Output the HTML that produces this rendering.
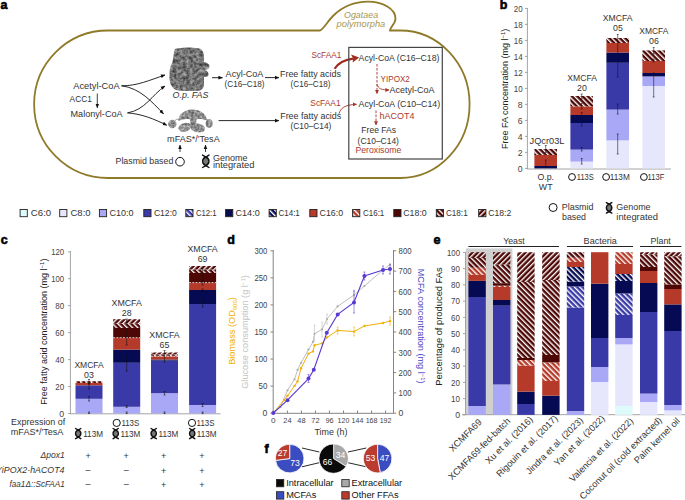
<!DOCTYPE html><html><head><meta charset="utf-8"><style>html,body{margin:0;padding:0;background:#fff;width:685px;height:500px;overflow:hidden}svg{display:block}text{font-family:"Liberation Sans",sans-serif}</style></head><body>
<svg width="685" height="500" viewBox="0 0 685 500">
<defs>
<pattern id="h121" patternUnits="userSpaceOnUse" width="3.75" height="3.75" patternTransform="rotate(-45)"><rect width="3.75" height="3.75" fill="#3a39a8"/><rect x="0" y="0" width="1.35" height="3.75" fill="#fff"/></pattern>
<pattern id="h141" patternUnits="userSpaceOnUse" width="3.75" height="3.75" patternTransform="rotate(-45)"><rect width="3.75" height="3.75" fill="#050a52"/><rect x="0" y="0" width="1.35" height="3.75" fill="#fff"/></pattern>
<pattern id="h161" patternUnits="userSpaceOnUse" width="3.75" height="3.75" patternTransform="rotate(-45)"><rect width="3.75" height="3.75" fill="#b63a2a"/><rect x="0" y="0" width="1.35" height="3.75" fill="#fff"/></pattern>
<pattern id="h181" patternUnits="userSpaceOnUse" width="3.75" height="3.75" patternTransform="rotate(-45)"><rect width="3.75" height="3.75" fill="#4d0806"/><rect x="0" y="0" width="1.35" height="3.75" fill="#fff"/></pattern>
<pattern id="h182" patternUnits="userSpaceOnUse" width="3.75" height="3.75" patternTransform="rotate(45)"><rect width="3.75" height="3.75" fill="#4d0806"/><rect x="0" y="0" width="1.35" height="3.75" fill="#fff"/></pattern>
<marker id="arr" viewBox="0 0 10 10" refX="9" refY="5" markerWidth="4.6" markerHeight="4.6" orient="auto-start-reverse" markerUnits="userSpaceOnUse"><path d="M0,1 L10,5 L0,9 z" fill="#111"/></marker>
<marker id="arrR" viewBox="0 0 10 10" refX="9" refY="5" markerWidth="4" markerHeight="4" orient="auto" markerUnits="userSpaceOnUse"><path d="M0,0 L10,5 L0,10 z" fill="#a83228"/></marker>
<marker id="arrRb" viewBox="0 0 10 10" refX="8" refY="5" markerWidth="8" markerHeight="8" orient="auto" markerUnits="userSpaceOnUse"><path d="M0,0 L10,5 L0,10 z" fill="#a02a20"/></marker>
<filter id="tex" x="-10%" y="-10%" width="120%" height="120%" color-interpolation-filters="sRGB"><feTurbulence type="fractalNoise" baseFrequency="0.3" numOctaves="3" seed="11" result="n"/><feColorMatrix in="n" type="matrix" values="0.7 0 0 0 0.1  0.7 0 0 0 0.1  0.7 0 0 0 0.1  0 0 0 0 1" result="g"/><feGaussianBlur in="g" stdDeviation="0.5" result="gb"/><feComposite in="gb" in2="SourceAlpha" operator="in"/></filter>
<filter id="tex2" x="-10%" y="-10%" width="120%" height="120%" color-interpolation-filters="sRGB"><feTurbulence type="fractalNoise" baseFrequency="0.35" numOctaves="3" seed="5" result="n"/><feColorMatrix in="n" type="matrix" values="0.7 0 0 0 0.2  0.7 0 0 0 0.2  0.7 0 0 0 0.2  0 0 0 0 1" result="g"/><feGaussianBlur in="g" stdDeviation="0.45" result="gb"/><feComposite in="gb" in2="SourceAlpha" operator="in"/></filter>
</defs>
<text x="0.6" y="9.1" font-size="12.5" fill="#000" stroke="#000" stroke-width="0.6" font-weight="bold">a</text>
<text x="499.8" y="9.1" font-size="12.5" fill="#000" stroke="#000" stroke-width="0.6" font-weight="bold">b</text>
<text x="0.8" y="243.6" font-size="12.5" fill="#000" stroke="#000" stroke-width="0.6" font-weight="bold">c</text>
<text x="227.3" y="243.6" font-size="12.5" fill="#000" stroke="#000" stroke-width="0.6" font-weight="bold">d</text>
<text x="433.4" y="243.6" font-size="12.5" fill="#000" stroke="#000" stroke-width="0.6" font-weight="bold">e</text>
<text x="264.6" y="452.5" font-size="12.5" fill="#000" stroke="#000" stroke-width="0.6" font-weight="bold">f</text>
<path d="M108,30.5 L320,30.5 C324,28.5 327,22 333,16 C343,6 355,1.7 368,1.7 C383,1.7 395.5,9 395.5,18.5 C395.5,24 390,27 390,30.5 L400,30.5 A69.6,73.75 0 0 1 400,178 L108,178 A73.9,73.75 0 0 1 108,30.5 Z" fill="none" stroke="#8f7a2a" stroke-width="1.8"/>
<text x="344.00" y="17.7" font-size="8.8" fill="#a89650" stroke="#a89650" stroke-width="0" textLength="34.10" lengthAdjust="spacingAndGlyphs" font-style="italic">Ogataea</text>
<text x="336.60" y="27" font-size="8.8" fill="#a89650" stroke="#a89650" stroke-width="0" textLength="48.70" lengthAdjust="spacingAndGlyphs" font-style="italic">polymorpha</text>
<text x="73.30" y="88.9" font-size="8.8" fill="#333" stroke="#333" stroke-width="0.0" textLength="46.30" lengthAdjust="spacingAndGlyphs" >Acetyl-CoA</text>
<text x="69.60" y="102.4" font-size="8.8" fill="#333" stroke="#333" stroke-width="0.0" textLength="22.30" lengthAdjust="spacingAndGlyphs" >ACC1</text>
<line x1="97.3" y1="93.5" x2="97.3" y2="107.8" stroke="#111" stroke-width="0.8" marker-end="url(#arr)"/>
<text x="70.50" y="117" font-size="8.8" fill="#333" stroke="#333" stroke-width="0.0" textLength="52.10" lengthAdjust="spacingAndGlyphs" >Malonyl-CoA</text>
<path d="M121.5,85.8 C137,86 150,80 165,75" fill="none" stroke="#111" stroke-width="0.9" marker-end="url(#arr)"/>
<path d="M121.5,85.8 C140,88 152,102 163.5,113.8" fill="none" stroke="#111" stroke-width="0.9" marker-end="url(#arr)"/>
<path d="M127.5,112.9 C145,110 152,95 165,86" fill="none" stroke="#111" stroke-width="0.9" marker-end="url(#arr)"/>
<path d="M127.5,112.9 C142,114 154,119 166.8,125.2" fill="none" stroke="#111" stroke-width="0.9" marker-end="url(#arr)"/>
<g filter="url(#tex)">
<path d="M175,49 C182,47 195,47 201,49 C204,52 204.5,56 204,62 C207,62.5 209.5,64 209.5,66.5 C209.5,69 207,69.5 205,70 C207,71 209,72.5 208.5,75 C208,77 205.5,77 204,77 L204,86 C203,89 201,90.6 198,90.8 C190,91.2 180,91.2 176,90 C172,88 170,84 169.6,80 C169.4,74 169.5,68 171,65 C173,62 173.5,56 174,52 Z" fill="#666"/>
</g>
<text x="172.60" y="98.4" font-size="8.8" fill="#333" stroke="#333" stroke-width="0.0" textLength="35.80" lengthAdjust="spacingAndGlyphs" font-style="italic">O.p. FAS</text>
<line x1="212" y1="77.7" x2="222.5" y2="77.7" stroke="#111" stroke-width="0.9" marker-end="url(#arr)"/>
<g filter="url(#tex2)">
<path d="M178.5,121 C178,115 184,110 192,109.6 C200,109.6 206,113 207,120.5 C204,119.5 200,118.5 196.5,119.5 L195.5,127 L191,127 L190,119.5 C186,118.5 182,119.5 178.5,121 Z" fill="#777"/>
<ellipse cx="172.3" cy="124" rx="4.2" ry="4.3" fill="#777"/>
<ellipse cx="184.8" cy="127.3" rx="6.6" ry="4.3" transform="rotate(-16 184.8 127.3)" fill="#777"/>
<ellipse cx="197.6" cy="127.8" rx="7.6" ry="4.5" transform="rotate(12 197.6 127.8)" fill="#777"/>
<ellipse cx="209.2" cy="123.5" rx="3.5" ry="4.2" fill="#777"/>
</g>
<path d="M175,120.5 C177,118.5 179,119 180,120 M205,119.5 C206.5,119 207.5,119.5 208,120" stroke="#777" stroke-width="0.7" fill="none"/>
<text x="167.10" y="141.6" font-size="8.8" fill="#333" stroke="#333" stroke-width="0.0" textLength="52.60" lengthAdjust="spacingAndGlyphs" >mFAS*/′TesA</text>
<line x1="180" y1="152" x2="180" y2="145" stroke="#111" stroke-width="0.8" marker-end="url(#arr)"/>
<line x1="205.5" y1="152" x2="205.5" y2="145" stroke="#111" stroke-width="0.8" marker-end="url(#arr)"/>
<text x="115.50" y="164" font-size="8.8" fill="#333" stroke="#333" stroke-width="0.0" textLength="57.80" lengthAdjust="spacingAndGlyphs" >Plasmid based</text>
<circle cx="180" cy="161.7" r="4.3" fill="none" stroke="#111" stroke-width="1.0"/>
<path d="M205.79999999999998,157.01000000000002 C209.04,158.31000000000003 209.04,164.29 205.79999999999998,165.59 C202.56,164.29 202.56,158.31000000000003 205.79999999999998,157.01000000000002 Z" fill="#777" stroke="none"/>
<path d="M202.6,155.10000000000002 L205.79999999999998,157.01000000000002 C209.976,158.57000000000002 209.976,164.03 205.79999999999998,165.59 L202.6,167.5" fill="none" stroke="#111" stroke-width="1.45" stroke-linecap="round"/>
<path d="M208.99999999999997,155.10000000000002 L205.79999999999998,157.01000000000002 C201.624,158.57000000000002 201.624,164.03 205.79999999999998,165.59 L208.99999999999997,167.5" fill="none" stroke="#111" stroke-width="1.45" stroke-linecap="round"/>
<text x="212.90" y="160.5" font-size="8.8" fill="#333" stroke="#333" stroke-width="0.0" textLength="34.50" lengthAdjust="spacingAndGlyphs" >Genome</text>
<text x="212.90" y="168" font-size="8.8" fill="#333" stroke="#333" stroke-width="0.0" textLength="41.50" lengthAdjust="spacingAndGlyphs" >integrated</text>
<text x="225.60" y="76.8" font-size="8.8" fill="#333" stroke="#333" stroke-width="0.0" textLength="37.80" lengthAdjust="spacingAndGlyphs" >Acyl-CoA</text>
<text x="224.60" y="87" font-size="8.8" fill="#333" stroke="#333" stroke-width="0.0" textLength="39.80" lengthAdjust="spacingAndGlyphs" >(C16–C18)</text>
<line x1="265" y1="77.6" x2="279" y2="77.6" stroke="#111" stroke-width="0.9" marker-end="url(#arr)"/>
<text x="280.00" y="76.8" font-size="8.8" fill="#333" stroke="#333" stroke-width="0.0" textLength="60.90" lengthAdjust="spacingAndGlyphs" >Free fatty acids</text>
<text x="290.60" y="87" font-size="8.8" fill="#333" stroke="#333" stroke-width="0.0" textLength="39.80" lengthAdjust="spacingAndGlyphs" >(C16–C18)</text>
<line x1="218.6" y1="120.6" x2="279" y2="120.6" stroke="#111" stroke-width="0.9" marker-end="url(#arr)"/>
<text x="280.20" y="119.1" font-size="8.8" fill="#333" stroke="#333" stroke-width="0.0" textLength="61.10" lengthAdjust="spacingAndGlyphs" >Free fatty acids</text>
<text x="290.40" y="128.7" font-size="8.8" fill="#333" stroke="#333" stroke-width="0.0" textLength="41.00" lengthAdjust="spacingAndGlyphs" >(C10–C14)</text>
<text x="311.40" y="58" font-size="8.8" fill="#a83a30" stroke="#a83a30" stroke-width="0.0" textLength="29.90" lengthAdjust="spacingAndGlyphs" >ScFAA1</text>
<text x="310.30" y="105.6" font-size="8.8" fill="#a83a30" stroke="#a83a30" stroke-width="0.0" textLength="30.30" lengthAdjust="spacingAndGlyphs" >ScFAA1</text>
<path d="M334.6,68.8 C338,63 343,60 353,58.6" fill="none" stroke="#a02a20" stroke-width="2.2"/>
<path d="M351,54.6 L359.2,57.4 L352.6,62.4 L353.2,58.4 Z" fill="#a02a20"/>
<path d="M338.9,113.7 C341,108 344,105 356.5,104.3" fill="none" stroke="#a83228" stroke-width="0.9" marker-end="url(#arrR)"/>
<rect x="348.8" y="47.4" width="93.5" height="111.6" fill="none" stroke="#444" stroke-width="1.2"/>
<text x="358.60" y="60.8" font-size="8.8" fill="#333" stroke="#333" stroke-width="0.0" textLength="80.80" lengthAdjust="spacingAndGlyphs" >Acyl-CoA (C16–C18)</text>
<line x1="377" y1="64" x2="377" y2="93.5" stroke="#a83228" stroke-width="0.9" stroke-dasharray="2.6,1.4" marker-end="url(#arrR)"/>
<text x="380.60" y="82.3" font-size="8.8" fill="#a83a30" stroke="#a83a30" stroke-width="0.0" textLength="29.30" lengthAdjust="spacingAndGlyphs" >YIPOX2</text>
<path d="M377,84 C378,89 382,90 389,90" fill="none" stroke="#a83228" stroke-width="0.9" marker-end="url(#arrR)"/>
<text x="389.40" y="92.5" font-size="8.8" fill="#333" stroke="#333" stroke-width="0.0" textLength="45.00" lengthAdjust="spacingAndGlyphs" >Acetyl-CoA</text>
<text x="358.60" y="106.6" font-size="8.8" fill="#333" stroke="#333" stroke-width="0.0" textLength="81.50" lengthAdjust="spacingAndGlyphs" >Acyl-CoA (C10–C14)</text>
<line x1="376" y1="110.5" x2="376" y2="124.8" stroke="#a83228" stroke-width="0.9" stroke-dasharray="2.6,1.4" marker-end="url(#arrR)"/>
<text x="379.60" y="119" font-size="8.8" fill="#a83a30" stroke="#a83a30" stroke-width="0.0" textLength="34.80" lengthAdjust="spacingAndGlyphs" >hACOT4</text>
<text x="361.30" y="133.3" font-size="8.8" fill="#333" stroke="#333" stroke-width="0.0" textLength="34.80" lengthAdjust="spacingAndGlyphs" >Free FAs</text>
<text x="357.60" y="143.6" font-size="8.8" fill="#333" stroke="#333" stroke-width="0.0" textLength="41.30" lengthAdjust="spacingAndGlyphs" >(C10–C14)</text>
<text x="355.40" y="153" font-size="8.8" fill="#a83a30" stroke="#a83a30" stroke-width="0.0" textLength="46.00" lengthAdjust="spacingAndGlyphs" >Peroxisome</text>
<line x1="527.4" y1="8" x2="527.4" y2="169" stroke="#9a9a9a" stroke-width="0.9"/>
<line x1="527" y1="169" x2="671" y2="169" stroke="#9a9a9a" stroke-width="0.9"/>
<line x1="525" y1="168.4" x2="527.4" y2="168.4" stroke="#9a9a9a" stroke-width="0.9"/>
<text x="517.75" y="171.6" font-size="9.0" fill="#444" stroke="#444" stroke-width="0.0" textLength="4.85" lengthAdjust="spacingAndGlyphs" >0</text>
<line x1="525" y1="152.4" x2="527.4" y2="152.4" stroke="#9a9a9a" stroke-width="0.9"/>
<text x="517.75" y="155.6" font-size="9.0" fill="#444" stroke="#444" stroke-width="0.0" textLength="4.85" lengthAdjust="spacingAndGlyphs" >2</text>
<line x1="525" y1="136.4" x2="527.4" y2="136.4" stroke="#9a9a9a" stroke-width="0.9"/>
<text x="517.75" y="139.6" font-size="9.0" fill="#444" stroke="#444" stroke-width="0.0" textLength="4.85" lengthAdjust="spacingAndGlyphs" >4</text>
<line x1="525" y1="120.4" x2="527.4" y2="120.4" stroke="#9a9a9a" stroke-width="0.9"/>
<text x="517.75" y="123.60000000000001" font-size="9.0" fill="#444" stroke="#444" stroke-width="0.0" textLength="4.85" lengthAdjust="spacingAndGlyphs" >6</text>
<line x1="525" y1="104.4" x2="527.4" y2="104.4" stroke="#9a9a9a" stroke-width="0.9"/>
<text x="517.75" y="107.60000000000001" font-size="9.0" fill="#444" stroke="#444" stroke-width="0.0" textLength="4.85" lengthAdjust="spacingAndGlyphs" >8</text>
<line x1="525" y1="88.4" x2="527.4" y2="88.4" stroke="#9a9a9a" stroke-width="0.9"/>
<text x="513.70" y="91.60000000000001" font-size="9.0" fill="#444" stroke="#444" stroke-width="0.0" textLength="8.90" lengthAdjust="spacingAndGlyphs" >10</text>
<line x1="525" y1="72.4" x2="527.4" y2="72.4" stroke="#9a9a9a" stroke-width="0.9"/>
<text x="513.70" y="75.60000000000001" font-size="9.0" fill="#444" stroke="#444" stroke-width="0.0" textLength="8.90" lengthAdjust="spacingAndGlyphs" >12</text>
<line x1="525" y1="56.400000000000006" x2="527.4" y2="56.400000000000006" stroke="#9a9a9a" stroke-width="0.9"/>
<text x="513.70" y="59.60000000000001" font-size="9.0" fill="#444" stroke="#444" stroke-width="0.0" textLength="8.90" lengthAdjust="spacingAndGlyphs" >14</text>
<line x1="525" y1="40.400000000000006" x2="527.4" y2="40.400000000000006" stroke="#9a9a9a" stroke-width="0.9"/>
<text x="513.70" y="43.60000000000001" font-size="9.0" fill="#444" stroke="#444" stroke-width="0.0" textLength="8.90" lengthAdjust="spacingAndGlyphs" >16</text>
<line x1="525" y1="24.400000000000006" x2="527.4" y2="24.400000000000006" stroke="#9a9a9a" stroke-width="0.9"/>
<text x="513.70" y="27.600000000000005" font-size="9.0" fill="#444" stroke="#444" stroke-width="0.0" textLength="8.90" lengthAdjust="spacingAndGlyphs" >18</text>
<line x1="525" y1="8.400000000000006" x2="527.4" y2="8.400000000000006" stroke="#9a9a9a" stroke-width="0.9"/>
<text x="513.70" y="11.600000000000005" font-size="9.0" fill="#444" stroke="#444" stroke-width="0.0" textLength="8.90" lengthAdjust="spacingAndGlyphs" >20</text>
<text transform="translate(508.3,88.9) rotate(-90)" font-size="9.0" text-anchor="middle" fill="#222">Free FA concentration (mg l<tspan dy="-3" font-size="6">−1</tspan><tspan dy="3">)</tspan></text>
<rect x="534.4" y="166.00" width="22.6" height="2.40" fill="#050a52"/>
<rect x="534.4" y="155.00" width="22.6" height="11.00" fill="#b63a2a"/>
<rect x="534.4" y="149.00" width="22.6" height="6.00" fill="url(#h181)"/>
<rect x="570.4" y="161.60" width="22.6" height="6.80" fill="#e6e6fc"/>
<rect x="570.4" y="149.60" width="22.6" height="12.00" fill="#a8a8f6"/>
<rect x="570.4" y="123.00" width="22.6" height="26.60" fill="#3a39a8"/>
<rect x="570.4" y="115.00" width="22.6" height="8.00" fill="#050a52"/>
<rect x="570.4" y="106.40" width="22.6" height="8.60" fill="#b63a2a"/>
<rect x="570.4" y="96.00" width="22.6" height="10.40" fill="url(#h181)"/>
<rect x="606.4" y="140.40" width="22.6" height="28.00" fill="#e6e6fc"/>
<rect x="606.4" y="109.60" width="22.6" height="30.80" fill="#a8a8f6"/>
<rect x="606.4" y="62.80" width="22.6" height="46.80" fill="#3a39a8"/>
<rect x="606.4" y="52.50" width="22.6" height="10.30" fill="#050a52"/>
<rect x="606.4" y="43.00" width="22.6" height="9.50" fill="#b63a2a"/>
<rect x="606.4" y="38.00" width="22.6" height="5.00" fill="url(#h181)"/>
<rect x="642.4" y="86.00" width="22.6" height="82.40" fill="#e6e6fc"/>
<rect x="642.4" y="76.40" width="22.6" height="9.60" fill="#a8a8f6"/>
<rect x="642.4" y="73.00" width="22.6" height="3.40" fill="#050a52"/>
<rect x="642.4" y="61.00" width="22.6" height="12.00" fill="#b63a2a"/>
<rect x="642.4" y="50.40" width="22.6" height="10.60" fill="url(#h181)"/>
<line x1="545.7" y1="145.5" x2="545.7" y2="152.5" stroke="#111" stroke-width="0.55"/>
<line x1="544.74" y1="145.5" x2="546.6600000000001" y2="145.5" stroke="#111" stroke-width="0.55"/>
<line x1="544.74" y1="152.5" x2="546.6600000000001" y2="152.5" stroke="#111" stroke-width="0.55"/>
<line x1="545.7" y1="160" x2="545.7" y2="167" stroke="#111" stroke-width="0.55"/>
<line x1="544.74" y1="160" x2="546.6600000000001" y2="160" stroke="#111" stroke-width="0.55"/>
<line x1="544.74" y1="167" x2="546.6600000000001" y2="167" stroke="#111" stroke-width="0.55"/>
<line x1="581.7" y1="94" x2="581.7" y2="99" stroke="#111" stroke-width="0.55"/>
<line x1="580.74" y1="94" x2="582.6600000000001" y2="94" stroke="#111" stroke-width="0.55"/>
<line x1="580.74" y1="99" x2="582.6600000000001" y2="99" stroke="#111" stroke-width="0.55"/>
<line x1="581.7" y1="103.5" x2="581.7" y2="109" stroke="#111" stroke-width="0.55"/>
<line x1="580.74" y1="103.5" x2="582.6600000000001" y2="103.5" stroke="#111" stroke-width="0.55"/>
<line x1="580.74" y1="109" x2="582.6600000000001" y2="109" stroke="#111" stroke-width="0.55"/>
<line x1="581.7" y1="112.5" x2="581.7" y2="117" stroke="#111" stroke-width="0.55"/>
<line x1="580.74" y1="112.5" x2="582.6600000000001" y2="112.5" stroke="#111" stroke-width="0.55"/>
<line x1="580.74" y1="117" x2="582.6600000000001" y2="117" stroke="#111" stroke-width="0.55"/>
<line x1="581.7" y1="119" x2="581.7" y2="126" stroke="#111" stroke-width="0.55"/>
<line x1="580.74" y1="119" x2="582.6600000000001" y2="119" stroke="#111" stroke-width="0.55"/>
<line x1="580.74" y1="126" x2="582.6600000000001" y2="126" stroke="#111" stroke-width="0.55"/>
<line x1="581.7" y1="147.5" x2="581.7" y2="151" stroke="#111" stroke-width="0.55"/>
<line x1="580.74" y1="147.5" x2="582.6600000000001" y2="147.5" stroke="#111" stroke-width="0.55"/>
<line x1="580.74" y1="151" x2="582.6600000000001" y2="151" stroke="#111" stroke-width="0.55"/>
<line x1="581.7" y1="158.5" x2="581.7" y2="164" stroke="#111" stroke-width="0.55"/>
<line x1="580.74" y1="158.5" x2="582.6600000000001" y2="158.5" stroke="#111" stroke-width="0.55"/>
<line x1="580.74" y1="164" x2="582.6600000000001" y2="164" stroke="#111" stroke-width="0.55"/>
<line x1="617.7" y1="34.5" x2="617.7" y2="77" stroke="#111" stroke-width="0.55"/>
<line x1="616.74" y1="34.5" x2="618.6600000000001" y2="34.5" stroke="#111" stroke-width="0.55"/>
<line x1="616.74" y1="77" x2="618.6600000000001" y2="77" stroke="#111" stroke-width="0.55"/>
<line x1="617.7" y1="104" x2="617.7" y2="114" stroke="#111" stroke-width="0.55"/>
<line x1="616.74" y1="104" x2="618.6600000000001" y2="104" stroke="#111" stroke-width="0.55"/>
<line x1="616.74" y1="114" x2="618.6600000000001" y2="114" stroke="#111" stroke-width="0.55"/>
<line x1="617.7" y1="134" x2="617.7" y2="154" stroke="#111" stroke-width="0.55"/>
<line x1="616.74" y1="134" x2="618.6600000000001" y2="134" stroke="#111" stroke-width="0.55"/>
<line x1="616.74" y1="154" x2="618.6600000000001" y2="154" stroke="#111" stroke-width="0.55"/>
<line x1="653.7" y1="47.5" x2="653.7" y2="54" stroke="#111" stroke-width="0.55"/>
<line x1="652.74" y1="47.5" x2="654.6600000000001" y2="47.5" stroke="#111" stroke-width="0.55"/>
<line x1="652.74" y1="54" x2="654.6600000000001" y2="54" stroke="#111" stroke-width="0.55"/>
<line x1="653.7" y1="59" x2="653.7" y2="62" stroke="#111" stroke-width="0.55"/>
<line x1="652.74" y1="59" x2="654.6600000000001" y2="59" stroke="#111" stroke-width="0.55"/>
<line x1="652.74" y1="62" x2="654.6600000000001" y2="62" stroke="#111" stroke-width="0.55"/>
<line x1="653.7" y1="73" x2="653.7" y2="97" stroke="#111" stroke-width="0.55"/>
<line x1="652.74" y1="73" x2="654.6600000000001" y2="73" stroke="#111" stroke-width="0.55"/>
<line x1="652.74" y1="97" x2="654.6600000000001" y2="97" stroke="#111" stroke-width="0.55"/>
<text x="529.60" y="144.4" font-size="8.8" fill="#333" stroke="#333" stroke-width="0.0" textLength="34.80" lengthAdjust="spacingAndGlyphs" >JQcr03L</text>
<text x="567.30" y="81" font-size="8.8" fill="#333" stroke="#333" stroke-width="0.0" textLength="29.60" lengthAdjust="spacingAndGlyphs" >XMCFA</text>
<text x="582" y="90.7" font-size="8.8" text-anchor="middle" fill="#333" stroke="#333" stroke-width="0.0" >20</text>
<text x="602.80" y="21.4" font-size="8.8" fill="#333" stroke="#333" stroke-width="0.0" textLength="29.70" lengthAdjust="spacingAndGlyphs" >XMCFA</text>
<text x="618" y="31.4" font-size="8.8" text-anchor="middle" fill="#333" stroke="#333" stroke-width="0.0" >05</text>
<text x="639.30" y="34.2" font-size="8.8" fill="#333" stroke="#333" stroke-width="0.0" textLength="29.10" lengthAdjust="spacingAndGlyphs" >XMCFA</text>
<text x="654" y="44.2" font-size="8.8" text-anchor="middle" fill="#333" stroke="#333" stroke-width="0.0" >06</text>
<text x="545.7" y="180" font-size="8.8" text-anchor="middle" fill="#333" stroke="#333" stroke-width="0.0" >O.p.</text>
<text x="545.7" y="189.5" font-size="8.8" text-anchor="middle" fill="#333" stroke="#333" stroke-width="0.0" >WT</text>
<circle cx="572" cy="177" r="3.4" fill="none" stroke="#111" stroke-width="1.0"/>
<text x="576.80" y="180.2" font-size="8.8" fill="#333" stroke="#333" stroke-width="0.0" textLength="16.90" lengthAdjust="spacingAndGlyphs" >113S</text>
<circle cx="606.1" cy="177" r="3.4" fill="none" stroke="#111" stroke-width="1.0"/>
<text x="609.80" y="180.2" font-size="8.8" fill="#333" stroke="#333" stroke-width="0.0" textLength="20.00" lengthAdjust="spacingAndGlyphs" >113M</text>
<circle cx="643.9" cy="177" r="3.4" fill="none" stroke="#111" stroke-width="1.0"/>
<text x="647.50" y="180.2" font-size="8.8" fill="#333" stroke="#333" stroke-width="0.0" textLength="16.80" lengthAdjust="spacingAndGlyphs" >113F</text>
<rect x="20.1" y="209.5" width="7.2" height="7.2" fill="#defbfb" stroke="#222" stroke-width="0.9"/>
<text x="30.80" y="216.2" font-size="8.8" fill="#333" stroke="#333" stroke-width="0.0" textLength="20.40" lengthAdjust="spacingAndGlyphs" >C6:0</text>
<rect x="59.7" y="209.5" width="7.2" height="7.2" fill="#e6e6fc" stroke="#222" stroke-width="0.9"/>
<text x="70.50" y="216.2" font-size="8.8" fill="#333" stroke="#333" stroke-width="0.0" textLength="20.10" lengthAdjust="spacingAndGlyphs" >C8:0</text>
<rect x="99.4" y="209.5" width="7.2" height="7.2" fill="#a8a8f6" stroke="#222" stroke-width="0.9"/>
<text x="109.50" y="216.2" font-size="8.8" fill="#333" stroke="#333" stroke-width="0.0" textLength="24.10" lengthAdjust="spacingAndGlyphs" >C10:0</text>
<rect x="143.8" y="209.5" width="7.2" height="7.2" fill="#3a39a8" stroke="#222" stroke-width="0.9"/>
<text x="153.90" y="216.2" font-size="8.8" fill="#333" stroke="#333" stroke-width="0.0" textLength="22.90" lengthAdjust="spacingAndGlyphs" >C12:0</text>
<rect x="185.8" y="209.5" width="7.2" height="7.2" fill="url(#h121)" stroke="#222" stroke-width="0.9"/>
<text x="195.90" y="216.2" font-size="8.8" fill="#333" stroke="#333" stroke-width="0.0" textLength="20.70" lengthAdjust="spacingAndGlyphs" >C12:1</text>
<rect x="225.6" y="209.5" width="7.2" height="7.2" fill="#050a52" stroke="#222" stroke-width="0.9"/>
<text x="235.50" y="216.2" font-size="8.8" fill="#333" stroke="#333" stroke-width="0.0" textLength="24.20" lengthAdjust="spacingAndGlyphs" >C14:0</text>
<rect x="269.1" y="209.5" width="7.2" height="7.2" fill="url(#h141)" stroke="#222" stroke-width="0.9"/>
<text x="278.50" y="216.2" font-size="8.8" fill="#333" stroke="#333" stroke-width="0.0" textLength="21.30" lengthAdjust="spacingAndGlyphs" >C14:1</text>
<rect x="309.8" y="209.5" width="7.2" height="7.2" fill="#b63a2a" stroke="#222" stroke-width="0.9"/>
<text x="319.60" y="216.2" font-size="8.8" fill="#333" stroke="#333" stroke-width="0.0" textLength="23.50" lengthAdjust="spacingAndGlyphs" >C16:0</text>
<rect x="352.6" y="209.5" width="7.2" height="7.2" fill="url(#h161)" stroke="#222" stroke-width="0.9"/>
<text x="363.00" y="216.2" font-size="8.8" fill="#333" stroke="#333" stroke-width="0.0" textLength="21.30" lengthAdjust="spacingAndGlyphs" >C16:1</text>
<rect x="393.8" y="209.5" width="7.2" height="7.2" fill="#4d0806" stroke="#222" stroke-width="0.9"/>
<text x="403.20" y="216.2" font-size="8.8" fill="#333" stroke="#333" stroke-width="0.0" textLength="23.60" lengthAdjust="spacingAndGlyphs" >C18:0</text>
<rect x="436.3" y="209.5" width="7.2" height="7.2" fill="url(#h181)" stroke="#222" stroke-width="0.9"/>
<text x="445.90" y="216.2" font-size="8.8" fill="#333" stroke="#333" stroke-width="0.0" textLength="21.80" lengthAdjust="spacingAndGlyphs" >C18:1</text>
<rect x="478.7" y="209.5" width="7.2" height="7.2" fill="url(#h182)" stroke="#222" stroke-width="0.9"/>
<text x="488.30" y="216.2" font-size="8.8" fill="#333" stroke="#333" stroke-width="0.0" textLength="23.00" lengthAdjust="spacingAndGlyphs" >C18:2</text>
<circle cx="553.1" cy="207.5" r="4.0" fill="none" stroke="#111" stroke-width="1.0"/>
<text x="561.80" y="210" font-size="8.8" fill="#333" stroke="#333" stroke-width="0.0" textLength="31.60" lengthAdjust="spacingAndGlyphs" >Plasmid</text>
<text x="562" y="220.2" font-size="8.8" text-anchor="start" fill="#333" stroke="#333" stroke-width="0.0" >based</text>
<path d="M609.1,204.187 C611.89,205.29700000000003 611.89,210.403 609.1,211.513 C606.31,210.403 606.31,205.29700000000003 609.1,204.187 Z" fill="#777" stroke="none"/>
<path d="M606.4,202.60000000000002 L609.1,204.187 C612.696,205.519 612.696,210.181 609.1,211.513 L606.4,213.1" fill="none" stroke="#111" stroke-width="1.45" stroke-linecap="round"/>
<path d="M611.8000000000001,202.60000000000002 L609.1,204.187 C605.504,205.519 605.504,210.181 609.1,211.513 L611.8000000000001,213.1" fill="none" stroke="#111" stroke-width="1.45" stroke-linecap="round"/>
<text x="616.30" y="210" font-size="8.8" fill="#333" stroke="#333" stroke-width="0.0" textLength="34.30" lengthAdjust="spacingAndGlyphs" >Genome</text>
<text x="616.30" y="220.2" font-size="8.8" fill="#333" stroke="#333" stroke-width="0.0" textLength="41.70" lengthAdjust="spacingAndGlyphs" >integrated</text>
<line x1="70.4" y1="251" x2="70.4" y2="413.8" stroke="#9a9a9a" stroke-width="0.9"/>
<line x1="70" y1="413.8" x2="220.6" y2="413.8" stroke="#9a9a9a" stroke-width="0.9"/>
<line x1="68" y1="413.50" x2="70.4" y2="413.50" stroke="#9a9a9a" stroke-width="0.9"/>
<text x="59.35" y="416.7" font-size="9.0" fill="#444" stroke="#444" stroke-width="0.0" textLength="4.85" lengthAdjust="spacingAndGlyphs" >0</text>
<line x1="68" y1="386.55" x2="70.4" y2="386.55" stroke="#9a9a9a" stroke-width="0.9"/>
<text x="55.30" y="389.75" font-size="9.0" fill="#444" stroke="#444" stroke-width="0.0" textLength="8.90" lengthAdjust="spacingAndGlyphs" >20</text>
<line x1="68" y1="359.60" x2="70.4" y2="359.60" stroke="#9a9a9a" stroke-width="0.9"/>
<text x="55.30" y="362.8" font-size="9.0" fill="#444" stroke="#444" stroke-width="0.0" textLength="8.90" lengthAdjust="spacingAndGlyphs" >40</text>
<line x1="68" y1="332.65" x2="70.4" y2="332.65" stroke="#9a9a9a" stroke-width="0.9"/>
<text x="55.30" y="335.84999999999997" font-size="9.0" fill="#444" stroke="#444" stroke-width="0.0" textLength="8.90" lengthAdjust="spacingAndGlyphs" >60</text>
<line x1="68" y1="305.70" x2="70.4" y2="305.70" stroke="#9a9a9a" stroke-width="0.9"/>
<text x="55.30" y="308.9" font-size="9.0" fill="#444" stroke="#444" stroke-width="0.0" textLength="8.90" lengthAdjust="spacingAndGlyphs" >80</text>
<line x1="68" y1="278.75" x2="70.4" y2="278.75" stroke="#9a9a9a" stroke-width="0.9"/>
<text x="51.25" y="281.95" font-size="9.0" fill="#444" stroke="#444" stroke-width="0.0" textLength="12.95" lengthAdjust="spacingAndGlyphs" >100</text>
<line x1="68" y1="251.80" x2="70.4" y2="251.80" stroke="#9a9a9a" stroke-width="0.9"/>
<text x="51.25" y="255.0" font-size="9.0" fill="#444" stroke="#444" stroke-width="0.0" textLength="12.95" lengthAdjust="spacingAndGlyphs" >120</text>
<text transform="translate(47,331.6) rotate(-90)" font-size="9.03" text-anchor="middle" fill="#222">Free fatty acid concentration (mg l<tspan dy="-3" font-size="6">−1</tspan><tspan dy="3">)</tspan></text>
<rect x="75.5" y="398.80" width="27" height="14.70" fill="#a8a8f6"/>
<rect x="75.5" y="385.30" width="27" height="13.50" fill="#3a39a8"/>
<rect x="75.5" y="383.00" width="27" height="2.30" fill="#b63a2a"/>
<rect x="75.5" y="382.00" width="27" height="1.00" fill="url(#h181)"/>
<rect x="75.5" y="381.20" width="27" height="0.80" fill="url(#h182)"/>
<rect x="113.2" y="406.80" width="27" height="6.70" fill="#a8a8f6"/>
<rect x="113.2" y="362.80" width="27" height="44.00" fill="#3a39a8"/>
<rect x="113.2" y="349.60" width="27" height="13.20" fill="#050a52"/>
<rect x="113.2" y="338.00" width="27" height="11.60" fill="#b63a2a"/>
<rect x="113.2" y="328.00" width="27" height="10.00" fill="#4d0806"/>
<rect x="113.2" y="323.60" width="27" height="4.40" fill="url(#h181)"/>
<rect x="113.2" y="319.20" width="27" height="4.40" fill="url(#h182)"/>
<rect x="151" y="393.20" width="27" height="20.30" fill="#a8a8f6"/>
<rect x="151" y="360.60" width="27" height="32.60" fill="#3a39a8"/>
<rect x="151" y="359.50" width="27" height="1.10" fill="#050a52"/>
<rect x="151" y="356.20" width="27" height="3.30" fill="#b63a2a"/>
<rect x="151" y="354.40" width="27" height="1.80" fill="url(#h181)"/>
<rect x="151" y="352.50" width="27" height="1.90" fill="url(#h182)"/>
<rect x="189.1" y="405.00" width="27" height="8.50" fill="#a8a8f6"/>
<rect x="189.1" y="304.00" width="27" height="101.00" fill="#3a39a8"/>
<rect x="189.1" y="290.00" width="27" height="14.00" fill="#050a52"/>
<rect x="189.1" y="283.00" width="27" height="7.00" fill="#b63a2a"/>
<rect x="189.1" y="273.00" width="27" height="10.00" fill="#4d0806"/>
<rect x="189.1" y="269.50" width="27" height="3.50" fill="url(#h181)"/>
<rect x="189.1" y="266.00" width="27" height="3.50" fill="url(#h182)"/>
<line x1="113.2" y1="337.7" x2="140.2" y2="337.7" stroke="#fff" stroke-width="0.8" stroke-dasharray="2,1.2"/>
<line x1="151" y1="356.2" x2="178" y2="356.2" stroke="#fff" stroke-width="0.8" stroke-dasharray="2,1.2"/>
<line x1="189.1" y1="282.6" x2="216.1" y2="282.6" stroke="#fff" stroke-width="0.8" stroke-dasharray="2,1.2"/>
<line x1="89" y1="379.5" x2="89" y2="384" stroke="#111" stroke-width="0.55"/>
<line x1="87.96" y1="379.5" x2="90.04" y2="379.5" stroke="#111" stroke-width="0.55"/>
<line x1="87.96" y1="384" x2="90.04" y2="384" stroke="#111" stroke-width="0.55"/>
<line x1="89" y1="383.5" x2="89" y2="389" stroke="#111" stroke-width="0.55"/>
<line x1="87.96" y1="383.5" x2="90.04" y2="383.5" stroke="#111" stroke-width="0.55"/>
<line x1="87.96" y1="389" x2="90.04" y2="389" stroke="#111" stroke-width="0.55"/>
<line x1="89" y1="396.5" x2="89" y2="401" stroke="#111" stroke-width="0.55"/>
<line x1="87.96" y1="396.5" x2="90.04" y2="396.5" stroke="#111" stroke-width="0.55"/>
<line x1="87.96" y1="401" x2="90.04" y2="401" stroke="#111" stroke-width="0.55"/>
<line x1="89" y1="412" x2="89" y2="413.5" stroke="#111" stroke-width="0.55"/>
<line x1="87.96" y1="412" x2="90.04" y2="412" stroke="#111" stroke-width="0.55"/>
<line x1="87.96" y1="413.5" x2="90.04" y2="413.5" stroke="#111" stroke-width="0.55"/>
<line x1="126.7" y1="319" x2="126.7" y2="323" stroke="#111" stroke-width="0.55"/>
<line x1="125.66" y1="319" x2="127.74000000000001" y2="319" stroke="#111" stroke-width="0.55"/>
<line x1="125.66" y1="323" x2="127.74000000000001" y2="323" stroke="#111" stroke-width="0.55"/>
<line x1="126.7" y1="330" x2="126.7" y2="345" stroke="#111" stroke-width="0.55"/>
<line x1="125.66" y1="330" x2="127.74000000000001" y2="330" stroke="#111" stroke-width="0.55"/>
<line x1="125.66" y1="345" x2="127.74000000000001" y2="345" stroke="#111" stroke-width="0.55"/>
<line x1="126.7" y1="355" x2="126.7" y2="371" stroke="#111" stroke-width="0.55"/>
<line x1="125.66" y1="355" x2="127.74000000000001" y2="355" stroke="#111" stroke-width="0.55"/>
<line x1="125.66" y1="371" x2="127.74000000000001" y2="371" stroke="#111" stroke-width="0.55"/>
<line x1="126.7" y1="405.5" x2="126.7" y2="407.5" stroke="#111" stroke-width="0.55"/>
<line x1="125.66" y1="405.5" x2="127.74000000000001" y2="405.5" stroke="#111" stroke-width="0.55"/>
<line x1="125.66" y1="407.5" x2="127.74000000000001" y2="407.5" stroke="#111" stroke-width="0.55"/>
<line x1="126.7" y1="412" x2="126.7" y2="413.5" stroke="#111" stroke-width="0.55"/>
<line x1="125.66" y1="412" x2="127.74000000000001" y2="412" stroke="#111" stroke-width="0.55"/>
<line x1="125.66" y1="413.5" x2="127.74000000000001" y2="413.5" stroke="#111" stroke-width="0.55"/>
<line x1="164.5" y1="350.5" x2="164.5" y2="362" stroke="#111" stroke-width="0.55"/>
<line x1="163.46" y1="350.5" x2="165.54" y2="350.5" stroke="#111" stroke-width="0.55"/>
<line x1="163.46" y1="362" x2="165.54" y2="362" stroke="#111" stroke-width="0.55"/>
<line x1="164.5" y1="391.5" x2="164.5" y2="395" stroke="#111" stroke-width="0.55"/>
<line x1="163.46" y1="391.5" x2="165.54" y2="391.5" stroke="#111" stroke-width="0.55"/>
<line x1="163.46" y1="395" x2="165.54" y2="395" stroke="#111" stroke-width="0.55"/>
<line x1="164.5" y1="412" x2="164.5" y2="413.5" stroke="#111" stroke-width="0.55"/>
<line x1="163.46" y1="412" x2="165.54" y2="412" stroke="#111" stroke-width="0.55"/>
<line x1="163.46" y1="413.5" x2="165.54" y2="413.5" stroke="#111" stroke-width="0.55"/>
<line x1="202.6" y1="268" x2="202.6" y2="276" stroke="#111" stroke-width="0.55"/>
<line x1="201.56" y1="268" x2="203.64" y2="268" stroke="#111" stroke-width="0.55"/>
<line x1="201.56" y1="276" x2="203.64" y2="276" stroke="#111" stroke-width="0.55"/>
<line x1="202.6" y1="280" x2="202.6" y2="285" stroke="#111" stroke-width="0.55"/>
<line x1="201.56" y1="280" x2="203.64" y2="280" stroke="#111" stroke-width="0.55"/>
<line x1="201.56" y1="285" x2="203.64" y2="285" stroke="#111" stroke-width="0.55"/>
<line x1="202.6" y1="289" x2="202.6" y2="292" stroke="#111" stroke-width="0.55"/>
<line x1="201.56" y1="289" x2="203.64" y2="289" stroke="#111" stroke-width="0.55"/>
<line x1="201.56" y1="292" x2="203.64" y2="292" stroke="#111" stroke-width="0.55"/>
<line x1="202.6" y1="300" x2="202.6" y2="307" stroke="#111" stroke-width="0.55"/>
<line x1="201.56" y1="300" x2="203.64" y2="300" stroke="#111" stroke-width="0.55"/>
<line x1="201.56" y1="307" x2="203.64" y2="307" stroke="#111" stroke-width="0.55"/>
<line x1="202.6" y1="403.5" x2="202.6" y2="406.5" stroke="#111" stroke-width="0.55"/>
<line x1="201.56" y1="403.5" x2="203.64" y2="403.5" stroke="#111" stroke-width="0.55"/>
<line x1="201.56" y1="406.5" x2="203.64" y2="406.5" stroke="#111" stroke-width="0.55"/>
<line x1="202.6" y1="412" x2="202.6" y2="413.5" stroke="#111" stroke-width="0.55"/>
<line x1="201.56" y1="412" x2="203.64" y2="412" stroke="#111" stroke-width="0.55"/>
<line x1="201.56" y1="413.5" x2="203.64" y2="413.5" stroke="#111" stroke-width="0.55"/>
<text x="74.40" y="368" font-size="8.8" fill="#333" stroke="#333" stroke-width="0.0" textLength="29.40" lengthAdjust="spacingAndGlyphs" >XMCFA</text>
<text x="89" y="377.6" font-size="8.8" text-anchor="middle" fill="#333" stroke="#333" stroke-width="0.0" >03</text>
<text x="126.7" y="306" font-size="8.8" text-anchor="middle" fill="#333" stroke="#333" stroke-width="0.0" >XMCFA</text>
<text x="126.7" y="316" font-size="8.8" text-anchor="middle" fill="#333" stroke="#333" stroke-width="0.0" >28</text>
<text x="164.5" y="338.2" font-size="8.8" text-anchor="middle" fill="#333" stroke="#333" stroke-width="0.0" >XMCFA</text>
<text x="164.5" y="347.8" font-size="8.8" text-anchor="middle" fill="#333" stroke="#333" stroke-width="0.0" >65</text>
<text x="202.6" y="252.4" font-size="8.8" text-anchor="middle" fill="#333" stroke="#333" stroke-width="0.0" >XMCFA</text>
<text x="202.6" y="262.4" font-size="8.8" text-anchor="middle" fill="#333" stroke="#333" stroke-width="0.0" >69</text>
<text x="11.00" y="424.7" font-size="8.8" fill="#333" stroke="#333" stroke-width="0.0" textLength="54.30" lengthAdjust="spacingAndGlyphs" >Expression of</text>
<text x="10.80" y="434.8" font-size="8.8" fill="#333" stroke="#333" stroke-width="0.0" textLength="52.60" lengthAdjust="spacingAndGlyphs" >mFAS*/′TesA</text>
<path d="M78.2,430.036 C80.9,431.116 80.9,436.084 78.2,437.164 C75.5,436.084 75.5,431.116 78.2,430.036 Z" fill="#777" stroke="none"/>
<path d="M75.60000000000001,428.5 L78.2,430.036 C81.68,431.332 81.68,435.868 78.2,437.164 L75.60000000000001,438.7" fill="none" stroke="#111" stroke-width="1.45" stroke-linecap="round"/>
<path d="M80.8,428.5 L78.2,430.036 C74.72,431.332 74.72,435.868 78.2,437.164 L80.8,438.7" fill="none" stroke="#111" stroke-width="1.45" stroke-linecap="round"/>
<text x="83.20" y="436.6" font-size="8.8" fill="#333" stroke="#333" stroke-width="0.0" textLength="19.80" lengthAdjust="spacingAndGlyphs" >113M</text>
<path d="M115.7,430.036 C118.4,431.116 118.4,436.084 115.7,437.164 C113.0,436.084 113.0,431.116 115.7,430.036 Z" fill="#777" stroke="none"/>
<path d="M113.10000000000001,428.5 L115.7,430.036 C119.18,431.332 119.18,435.868 115.7,437.164 L113.10000000000001,438.7" fill="none" stroke="#111" stroke-width="1.45" stroke-linecap="round"/>
<path d="M118.3,428.5 L115.7,430.036 C112.22,431.332 112.22,435.868 115.7,437.164 L118.3,438.7" fill="none" stroke="#111" stroke-width="1.45" stroke-linecap="round"/>
<text x="120.50" y="436.6" font-size="8.8" fill="#333" stroke="#333" stroke-width="0.0" textLength="19.80" lengthAdjust="spacingAndGlyphs" >113M</text>
<path d="M153.70000000000002,430.036 C156.4,431.116 156.4,436.084 153.70000000000002,437.164 C151.00000000000003,436.084 151.00000000000003,431.116 153.70000000000002,430.036 Z" fill="#777" stroke="none"/>
<path d="M151.10000000000002,428.5 L153.70000000000002,430.036 C157.18,431.332 157.18,435.868 153.70000000000002,437.164 L151.10000000000002,438.7" fill="none" stroke="#111" stroke-width="1.45" stroke-linecap="round"/>
<path d="M156.3,428.5 L153.70000000000002,430.036 C150.22000000000003,431.332 150.22000000000003,435.868 153.70000000000002,437.164 L156.3,438.7" fill="none" stroke="#111" stroke-width="1.45" stroke-linecap="round"/>
<text x="158.50" y="436.6" font-size="8.8" fill="#333" stroke="#333" stroke-width="0.0" textLength="19.80" lengthAdjust="spacingAndGlyphs" >113M</text>
<path d="M192.20000000000002,430.036 C194.9,431.116 194.9,436.084 192.20000000000002,437.164 C189.50000000000003,436.084 189.50000000000003,431.116 192.20000000000002,430.036 Z" fill="#777" stroke="none"/>
<path d="M189.60000000000002,428.5 L192.20000000000002,430.036 C195.68,431.332 195.68,435.868 192.20000000000002,437.164 L189.60000000000002,438.7" fill="none" stroke="#111" stroke-width="1.45" stroke-linecap="round"/>
<path d="M194.8,428.5 L192.20000000000002,430.036 C188.72000000000003,431.332 188.72000000000003,435.868 192.20000000000002,437.164 L194.8,438.7" fill="none" stroke="#111" stroke-width="1.45" stroke-linecap="round"/>
<text x="196.80" y="436.6" font-size="8.8" fill="#333" stroke="#333" stroke-width="0.0" textLength="19.80" lengthAdjust="spacingAndGlyphs" >113M</text>
<circle cx="116.7" cy="422.9" r="3.6" fill="none" stroke="#111" stroke-width="1.0"/>
<text x="121.40" y="426.1" font-size="8.8" fill="#333" stroke="#333" stroke-width="0.0" textLength="17.90" lengthAdjust="spacingAndGlyphs" >113S</text>
<circle cx="192" cy="422.9" r="3.6" fill="none" stroke="#111" stroke-width="1.0"/>
<text x="196.60" y="426.1" font-size="8.8" fill="#333" stroke="#333" stroke-width="0.0" textLength="17.90" lengthAdjust="spacingAndGlyphs" >113S</text>
<text x="40.60" y="457.7" font-size="8.8" fill="#333" stroke="#333" stroke-width="0.0" textLength="24.20" lengthAdjust="spacingAndGlyphs" font-style="italic">Δpox1</text>
<text x="64.4" y="473" font-size="8.8" text-anchor="end" fill="#333" stroke="#333" stroke-width="0.0" font-style="italic">YiPOX2-hACOT4</text>
<text x="9.50" y="487" font-size="8.8" fill="#333" stroke="#333" stroke-width="0.0" textLength="55.30" lengthAdjust="spacingAndGlyphs" font-style="italic">faa1Δ::ScFAA1</text>
<text x="88.1" y="459.0" font-size="9" text-anchor="middle" fill="#333" stroke="#333" stroke-width="0.0" >+</text>
<text x="126.2" y="459.0" font-size="9" text-anchor="middle" fill="#333" stroke="#333" stroke-width="0.0" >+</text>
<text x="163.6" y="459.0" font-size="9" text-anchor="middle" fill="#333" stroke="#333" stroke-width="0.0" >+</text>
<text x="201.9" y="459.0" font-size="9" text-anchor="middle" fill="#333" stroke="#333" stroke-width="0.0" >+</text>
<text x="88.1" y="472.7" font-size="9" text-anchor="middle" fill="#333" stroke="#333" stroke-width="0.0" >–</text>
<text x="126.2" y="472.7" font-size="9" text-anchor="middle" fill="#333" stroke="#333" stroke-width="0.0" >–</text>
<text x="163.6" y="473.8" font-size="9" text-anchor="middle" fill="#333" stroke="#333" stroke-width="0.0" >+</text>
<text x="201.9" y="473.8" font-size="9" text-anchor="middle" fill="#333" stroke="#333" stroke-width="0.0" >+</text>
<text x="88.1" y="487.0" font-size="9" text-anchor="middle" fill="#333" stroke="#333" stroke-width="0.0" >–</text>
<text x="126.2" y="487.0" font-size="9" text-anchor="middle" fill="#333" stroke="#333" stroke-width="0.0" >–</text>
<text x="163.6" y="488.1" font-size="9" text-anchor="middle" fill="#333" stroke="#333" stroke-width="0.0" >+</text>
<text x="201.9" y="488.1" font-size="9" text-anchor="middle" fill="#333" stroke="#333" stroke-width="0.0" >+</text>
<line x1="273.2" y1="250" x2="273.2" y2="413.3" stroke="#777" stroke-width="0.9"/>
<line x1="393.5" y1="250" x2="393.5" y2="413.3" stroke="#777" stroke-width="0.9"/>
<line x1="273" y1="413.3" x2="393.6" y2="413.3" stroke="#777" stroke-width="0.9"/>
<line x1="270.5" y1="413.20" x2="273.2" y2="413.20" stroke="#777" stroke-width="0.9"/>
<text x="262.55" y="416.4" font-size="9.0" fill="#444" stroke="#444" stroke-width="0.0" textLength="4.85" lengthAdjust="spacingAndGlyphs" >0</text>
<line x1="270.5" y1="386.13" x2="273.2" y2="386.13" stroke="#777" stroke-width="0.9"/>
<text x="258.50" y="389.335" font-size="9.0" fill="#444" stroke="#444" stroke-width="0.0" textLength="8.90" lengthAdjust="spacingAndGlyphs" >50</text>
<line x1="270.5" y1="359.07" x2="273.2" y2="359.07" stroke="#777" stroke-width="0.9"/>
<text x="254.45" y="362.27" font-size="9.0" fill="#444" stroke="#444" stroke-width="0.0" textLength="12.95" lengthAdjust="spacingAndGlyphs" >100</text>
<line x1="270.5" y1="332.00" x2="273.2" y2="332.00" stroke="#777" stroke-width="0.9"/>
<text x="254.45" y="335.205" font-size="9.0" fill="#444" stroke="#444" stroke-width="0.0" textLength="12.95" lengthAdjust="spacingAndGlyphs" >150</text>
<line x1="270.5" y1="304.94" x2="273.2" y2="304.94" stroke="#777" stroke-width="0.9"/>
<text x="254.45" y="308.14" font-size="9.0" fill="#444" stroke="#444" stroke-width="0.0" textLength="12.95" lengthAdjust="spacingAndGlyphs" >200</text>
<line x1="270.5" y1="277.88" x2="273.2" y2="277.88" stroke="#777" stroke-width="0.9"/>
<text x="254.45" y="281.075" font-size="9.0" fill="#444" stroke="#444" stroke-width="0.0" textLength="12.95" lengthAdjust="spacingAndGlyphs" >250</text>
<line x1="270.5" y1="250.81" x2="273.2" y2="250.81" stroke="#777" stroke-width="0.9"/>
<text x="254.45" y="254.00999999999996" font-size="9.0" fill="#444" stroke="#444" stroke-width="0.0" textLength="12.95" lengthAdjust="spacingAndGlyphs" >300</text>
<line x1="393.5" y1="413.20" x2="396.2" y2="413.20" stroke="#777" stroke-width="0.9"/>
<text x="398.60" y="416.4" font-size="9.0" fill="#444" stroke="#444" stroke-width="0.0" textLength="4.85" lengthAdjust="spacingAndGlyphs" >0</text>
<line x1="393.5" y1="392.90" x2="396.2" y2="392.90" stroke="#777" stroke-width="0.9"/>
<text x="398.60" y="396.09999999999997" font-size="9.0" fill="#444" stroke="#444" stroke-width="0.0" textLength="12.95" lengthAdjust="spacingAndGlyphs" >100</text>
<line x1="393.5" y1="372.60" x2="396.2" y2="372.60" stroke="#777" stroke-width="0.9"/>
<text x="398.60" y="375.79999999999995" font-size="9.0" fill="#444" stroke="#444" stroke-width="0.0" textLength="12.95" lengthAdjust="spacingAndGlyphs" >200</text>
<line x1="393.5" y1="352.30" x2="396.2" y2="352.30" stroke="#777" stroke-width="0.9"/>
<text x="398.60" y="355.49999999999994" font-size="9.0" fill="#444" stroke="#444" stroke-width="0.0" textLength="12.95" lengthAdjust="spacingAndGlyphs" >300</text>
<line x1="393.5" y1="332.00" x2="396.2" y2="332.00" stroke="#777" stroke-width="0.9"/>
<text x="398.60" y="335.2" font-size="9.0" fill="#444" stroke="#444" stroke-width="0.0" textLength="12.95" lengthAdjust="spacingAndGlyphs" >400</text>
<line x1="393.5" y1="311.70" x2="396.2" y2="311.70" stroke="#777" stroke-width="0.9"/>
<text x="398.60" y="314.9" font-size="9.0" fill="#444" stroke="#444" stroke-width="0.0" textLength="12.95" lengthAdjust="spacingAndGlyphs" >500</text>
<line x1="393.5" y1="291.40" x2="396.2" y2="291.40" stroke="#777" stroke-width="0.9"/>
<text x="398.60" y="294.59999999999997" font-size="9.0" fill="#444" stroke="#444" stroke-width="0.0" textLength="12.95" lengthAdjust="spacingAndGlyphs" >600</text>
<line x1="393.5" y1="271.10" x2="396.2" y2="271.10" stroke="#777" stroke-width="0.9"/>
<text x="398.60" y="274.29999999999995" font-size="9.0" fill="#444" stroke="#444" stroke-width="0.0" textLength="12.95" lengthAdjust="spacingAndGlyphs" >700</text>
<line x1="393.5" y1="250.80" x2="396.2" y2="250.80" stroke="#777" stroke-width="0.9"/>
<text x="398.60" y="253.99999999999997" font-size="9.0" fill="#444" stroke="#444" stroke-width="0.0" textLength="12.95" lengthAdjust="spacingAndGlyphs" >800</text>
<line x1="273.40" y1="410.5" x2="273.40" y2="413.3" stroke="#777" stroke-width="0.9"/>
<text x="271.10" y="422.7" font-size="8" fill="#444" stroke="#444" stroke-width="0.0" textLength="4.60" lengthAdjust="spacingAndGlyphs" >0</text>
<line x1="287.42" y1="410.5" x2="287.42" y2="413.3" stroke="#777" stroke-width="0.9"/>
<text x="283.32" y="422.7" font-size="8" fill="#444" stroke="#444" stroke-width="0.0" textLength="8.20" lengthAdjust="spacingAndGlyphs" >24</text>
<line x1="301.44" y1="410.5" x2="301.44" y2="413.3" stroke="#777" stroke-width="0.9"/>
<text x="297.34" y="422.7" font-size="8" fill="#444" stroke="#444" stroke-width="0.0" textLength="8.20" lengthAdjust="spacingAndGlyphs" >48</text>
<line x1="315.46" y1="410.5" x2="315.46" y2="413.3" stroke="#777" stroke-width="0.9"/>
<text x="311.36" y="422.7" font-size="8" fill="#444" stroke="#444" stroke-width="0.0" textLength="8.20" lengthAdjust="spacingAndGlyphs" >72</text>
<line x1="329.48" y1="410.5" x2="329.48" y2="413.3" stroke="#777" stroke-width="0.9"/>
<text x="325.38" y="422.7" font-size="8" fill="#444" stroke="#444" stroke-width="0.0" textLength="8.20" lengthAdjust="spacingAndGlyphs" >96</text>
<line x1="343.50" y1="410.5" x2="343.50" y2="413.3" stroke="#777" stroke-width="0.9"/>
<text x="337.60" y="422.7" font-size="8" fill="#444" stroke="#444" stroke-width="0.0" textLength="11.80" lengthAdjust="spacingAndGlyphs" >120</text>
<line x1="357.52" y1="410.5" x2="357.52" y2="413.3" stroke="#777" stroke-width="0.9"/>
<text x="351.62" y="422.7" font-size="8" fill="#444" stroke="#444" stroke-width="0.0" textLength="11.80" lengthAdjust="spacingAndGlyphs" >144</text>
<line x1="371.55" y1="410.5" x2="371.55" y2="413.3" stroke="#777" stroke-width="0.9"/>
<text x="365.65" y="422.7" font-size="8" fill="#444" stroke="#444" stroke-width="0.0" textLength="11.80" lengthAdjust="spacingAndGlyphs" >168</text>
<line x1="385.57" y1="410.5" x2="385.57" y2="413.3" stroke="#777" stroke-width="0.9"/>
<text x="379.67" y="422.7" font-size="8" fill="#444" stroke="#444" stroke-width="0.0" textLength="11.80" lengthAdjust="spacingAndGlyphs" >192</text>
<text x="314.50" y="434.6" font-size="8.8" fill="#333" stroke="#333" stroke-width="0.0" textLength="32.90" lengthAdjust="spacingAndGlyphs" >Time (h)</text>
<text transform="translate(235,331) rotate(-90)" font-size="9.2" text-anchor="middle" fill="#f0b000">Biomass (OD<tspan dy="2" font-size="6">600</tspan><tspan dy="-2">)</tspan></text>
<text transform="translate(248,332) rotate(-90)" font-size="9.2" text-anchor="middle" fill="#c4c4c4">Glucose consumption (g l<tspan dy="-3" font-size="6">−1</tspan><tspan dy="3">)</tspan></text>
<text transform="translate(418.2,326.2) rotate(90)" font-size="9.14" text-anchor="middle" fill="#4a46c8">MCFA concentration (mg l<tspan dy="-3" font-size="6">−1</tspan><tspan dy="3">)</tspan></text>
<polyline points="273.3,413 280.5,407 287.5,390.3 294.5,379.3 297.6,369.8 301,362.8 308.5,349.6 313,341.9 314.5,333.8 322,329.4 327,319 337.6,306.4 354,295 364.4,286 383,270 390,264.4" fill="none" stroke="#b8b8b8" stroke-width="0.9"/>
<circle cx="280.5" cy="407" r="1.1" fill="#aaa"/>
<circle cx="287.5" cy="390.3" r="1.1" fill="#aaa"/>
<circle cx="294.5" cy="379.3" r="1.1" fill="#aaa"/>
<circle cx="297.6" cy="369.8" r="1.1" fill="#aaa"/>
<circle cx="301" cy="362.8" r="1.1" fill="#aaa"/>
<circle cx="308.5" cy="349.6" r="1.1" fill="#aaa"/>
<circle cx="313" cy="341.9" r="1.1" fill="#aaa"/>
<circle cx="314.5" cy="333.8" r="1.1" fill="#aaa"/>
<circle cx="322" cy="329.4" r="1.1" fill="#aaa"/>
<circle cx="327" cy="319" r="1.1" fill="#aaa"/>
<circle cx="337.6" cy="306.4" r="1.1" fill="#aaa"/>
<circle cx="354" cy="295" r="1.1" fill="#aaa"/>
<circle cx="364.4" cy="286" r="1.1" fill="#aaa"/>
<circle cx="383" cy="270" r="1.1" fill="#aaa"/>
<circle cx="390" cy="264.4" r="1.1" fill="#aaa"/>
<line x1="314.5" y1="325" x2="314.5" y2="341" stroke="#bbb" stroke-width="0.55"/>
<line x1="313.54" y1="325" x2="315.46" y2="325" stroke="#bbb" stroke-width="0.55"/>
<line x1="313.54" y1="341" x2="315.46" y2="341" stroke="#bbb" stroke-width="0.55"/>
<line x1="322" y1="322" x2="322" y2="337" stroke="#bbb" stroke-width="0.55"/>
<line x1="321.04" y1="322" x2="322.96" y2="322" stroke="#bbb" stroke-width="0.55"/>
<line x1="321.04" y1="337" x2="322.96" y2="337" stroke="#bbb" stroke-width="0.55"/>
<line x1="327" y1="314" x2="327" y2="324" stroke="#bbb" stroke-width="0.55"/>
<line x1="326.04" y1="314" x2="327.96" y2="314" stroke="#bbb" stroke-width="0.55"/>
<line x1="326.04" y1="324" x2="327.96" y2="324" stroke="#bbb" stroke-width="0.55"/>
<line x1="354" y1="290" x2="354" y2="300" stroke="#bbb" stroke-width="0.55"/>
<line x1="353.04" y1="290" x2="354.96" y2="290" stroke="#bbb" stroke-width="0.55"/>
<line x1="353.04" y1="300" x2="354.96" y2="300" stroke="#bbb" stroke-width="0.55"/>
<polyline points="273.3,413 284,400 287.5,395.8 294.5,385.9 297.5,381.5 301,368.3 308.5,353.6 313,351.4 314.5,345.2 322,343.4 327,337.4 337.6,330.4 354,331.6 364.4,326 383,323 390,321" fill="none" stroke="#f2b10a" stroke-width="1.0"/>
<circle cx="284" cy="400" r="1.2" fill="#f2b10a"/>
<circle cx="287.5" cy="395.8" r="1.2" fill="#f2b10a"/>
<circle cx="294.5" cy="385.9" r="1.2" fill="#f2b10a"/>
<circle cx="297.5" cy="381.5" r="1.2" fill="#f2b10a"/>
<circle cx="301" cy="368.3" r="1.2" fill="#f2b10a"/>
<circle cx="308.5" cy="353.6" r="1.2" fill="#f2b10a"/>
<circle cx="313" cy="351.4" r="1.2" fill="#f2b10a"/>
<circle cx="314.5" cy="345.2" r="1.2" fill="#f2b10a"/>
<circle cx="322" cy="343.4" r="1.2" fill="#f2b10a"/>
<circle cx="327" cy="337.4" r="1.2" fill="#f2b10a"/>
<circle cx="337.6" cy="330.4" r="1.2" fill="#f2b10a"/>
<circle cx="354" cy="331.6" r="1.2" fill="#f2b10a"/>
<circle cx="364.4" cy="326" r="1.2" fill="#f2b10a"/>
<circle cx="383" cy="323" r="1.2" fill="#f2b10a"/>
<circle cx="390" cy="321" r="1.2" fill="#f2b10a"/>
<line x1="337.6" y1="327" x2="337.6" y2="334" stroke="#f2b10a" stroke-width="0.55"/>
<line x1="336.64000000000004" y1="327" x2="338.56" y2="327" stroke="#f2b10a" stroke-width="0.55"/>
<line x1="336.64000000000004" y1="334" x2="338.56" y2="334" stroke="#f2b10a" stroke-width="0.55"/>
<line x1="354" y1="327" x2="354" y2="336" stroke="#f2b10a" stroke-width="0.55"/>
<line x1="353.04" y1="327" x2="354.96" y2="327" stroke="#f2b10a" stroke-width="0.55"/>
<line x1="353.04" y1="336" x2="354.96" y2="336" stroke="#f2b10a" stroke-width="0.55"/>
<line x1="390" y1="317" x2="390" y2="325" stroke="#f2b10a" stroke-width="0.55"/>
<line x1="389.04" y1="317" x2="390.96" y2="317" stroke="#f2b10a" stroke-width="0.55"/>
<line x1="389.04" y1="325" x2="390.96" y2="325" stroke="#f2b10a" stroke-width="0.55"/>
<polyline points="273.3,413 287.5,400.2 308.5,378.6 313.8,369.8 326.8,332.7 337.7,314.4 354,302.4 364.4,276 383,270 390,269" fill="none" stroke="#5a3ad0" stroke-width="1.1"/>
<circle cx="273.3" cy="413" r="2.0" fill="#5a3ad0"/>
<circle cx="287.5" cy="400.2" r="2.0" fill="#5a3ad0"/>
<circle cx="308.5" cy="378.6" r="2.0" fill="#5a3ad0"/>
<circle cx="313.8" cy="369.8" r="2.0" fill="#5a3ad0"/>
<circle cx="326.8" cy="332.7" r="2.0" fill="#5a3ad0"/>
<circle cx="337.7" cy="314.4" r="2.0" fill="#5a3ad0"/>
<circle cx="354" cy="302.4" r="2.0" fill="#5a3ad0"/>
<circle cx="364.4" cy="276" r="2.0" fill="#5a3ad0"/>
<circle cx="383" cy="270" r="2.0" fill="#5a3ad0"/>
<circle cx="390" cy="269" r="2.0" fill="#5a3ad0"/>
<line x1="308.5" y1="374.5" x2="308.5" y2="382.5" stroke="#5a3ad0" stroke-width="0.55"/>
<line x1="307.46" y1="374.5" x2="309.54" y2="374.5" stroke="#5a3ad0" stroke-width="0.55"/>
<line x1="307.46" y1="382.5" x2="309.54" y2="382.5" stroke="#5a3ad0" stroke-width="0.55"/>
<line x1="354" y1="291" x2="354" y2="313" stroke="#5a3ad0" stroke-width="0.55"/>
<line x1="352.96" y1="291" x2="355.04" y2="291" stroke="#5a3ad0" stroke-width="0.55"/>
<line x1="352.96" y1="313" x2="355.04" y2="313" stroke="#5a3ad0" stroke-width="0.55"/>
<line x1="364.4" y1="272" x2="364.4" y2="280" stroke="#5a3ad0" stroke-width="0.55"/>
<line x1="363.35999999999996" y1="272" x2="365.44" y2="272" stroke="#5a3ad0" stroke-width="0.55"/>
<line x1="363.35999999999996" y1="280" x2="365.44" y2="280" stroke="#5a3ad0" stroke-width="0.55"/>
<line x1="383" y1="266" x2="383" y2="274" stroke="#5a3ad0" stroke-width="0.55"/>
<line x1="381.96" y1="266" x2="384.04" y2="266" stroke="#5a3ad0" stroke-width="0.55"/>
<line x1="381.96" y1="274" x2="384.04" y2="274" stroke="#5a3ad0" stroke-width="0.55"/>
<line x1="390" y1="265" x2="390" y2="274" stroke="#5a3ad0" stroke-width="0.55"/>
<line x1="388.96" y1="265" x2="391.04" y2="265" stroke="#5a3ad0" stroke-width="0.55"/>
<line x1="388.96" y1="274" x2="391.04" y2="274" stroke="#5a3ad0" stroke-width="0.55"/>
<line x1="302" y1="448" x2="319.3" y2="452" stroke="#111" stroke-width="0.9"/>
<line x1="302" y1="466.8" x2="319.3" y2="462.7" stroke="#111" stroke-width="0.9"/>
<line x1="348" y1="452" x2="366.3" y2="448" stroke="#111" stroke-width="0.9"/>
<line x1="348" y1="462.7" x2="366.3" y2="466.8" stroke="#111" stroke-width="0.9"/>
<path d="M289.7,458.6 L289.70,444.30 A14.3,14.3 0 1 1 275.51,460.39 Z" fill="#3a4cc0" stroke="#fff" stroke-width="0.8"/>
<path d="M289.7,458.6 L275.51,460.39 A14.3,14.3 0 0 1 289.70,444.30 Z" fill="#b93c2e" stroke="#fff" stroke-width="0.8"/>
<path d="M333.6,458.6 L333.60,443.90 A14.7,14.7 0 0 1 346.01,466.48 Z" fill="#a8a8a8" stroke="#fff" stroke-width="0.8"/>
<path d="M333.6,458.6 L346.01,466.48 A14.7,14.7 0 1 1 333.60,443.90 Z" fill="#0a0a0a" stroke="#fff" stroke-width="0.8"/>
<path d="M377.6,458.6 L377.60,444.30 A14.3,14.3 0 0 1 380.28,472.65 Z" fill="#3a4cc0" stroke="#fff" stroke-width="0.8"/>
<path d="M377.6,458.6 L380.28,472.65 A14.3,14.3 0 1 1 377.60,444.30 Z" fill="#b93c2e" stroke="#fff" stroke-width="0.8"/>
<text x="282.6" y="455.6" font-size="8.6" text-anchor="middle" fill="#fff">27</text>
<text x="295" y="465.8" font-size="8.6" text-anchor="middle" fill="#fff">73</text>
<text x="340.5" y="457.6" font-size="8.6" text-anchor="middle" fill="#fff">34</text>
<text x="327.5" y="464.8" font-size="8.6" text-anchor="middle" fill="#fff">66</text>
<text x="370.6" y="460.7" font-size="8.6" text-anchor="middle" fill="#fff">53</text>
<text x="384.6" y="460.7" font-size="8.6" text-anchor="middle" fill="#fff">47</text>
<rect x="276.4" y="479.4" width="7.4" height="7.4" fill="#0a0a0a" stroke="#222" stroke-width="0.8"/>
<text x="286.2" y="485.7" font-size="9.2" text-anchor="start" fill="#111" stroke="#111" stroke-width="0.0" >Intracellular</text>
<rect x="341.79999999999995" y="479.4" width="7.4" height="7.4" fill="#a8a8a8" stroke="#222" stroke-width="0.8"/>
<text x="351.59999999999997" y="485.7" font-size="9.2" text-anchor="start" fill="#111" stroke="#111" stroke-width="0.0" >Extracellular</text>
<rect x="276.4" y="491.7" width="7.4" height="7.4" fill="#3a4cc0" stroke="#222" stroke-width="0.8"/>
<text x="286.2" y="498.0" font-size="9.2" text-anchor="start" fill="#111" stroke="#111" stroke-width="0.0" >MCFAs</text>
<rect x="341.79999999999995" y="491.7" width="7.4" height="7.4" fill="#b93c2e" stroke="#222" stroke-width="0.8"/>
<text x="351.59999999999997" y="498.0" font-size="9.2" text-anchor="start" fill="#111" stroke="#111" stroke-width="0.0" >Other FFAs</text>
<rect x="465.8" y="248.4" width="46.6" height="166.5" fill="#d0d0d0"/>
<line x1="465.5" y1="252" x2="465.5" y2="414.9" stroke="#9a9a9a" stroke-width="0.9"/>
<line x1="462" y1="414.7" x2="685" y2="414.7" stroke="#9a9a9a" stroke-width="0.9"/>
<line x1="463" y1="414.90" x2="465.5" y2="414.90" stroke="#9a9a9a" stroke-width="0.9"/>
<text x="455.15" y="418.09999999999997" font-size="9.0" fill="#444" stroke="#444" stroke-width="0.0" textLength="4.85" lengthAdjust="spacingAndGlyphs" >0</text>
<line x1="463" y1="398.65" x2="465.5" y2="398.65" stroke="#9a9a9a" stroke-width="0.9"/>
<text x="451.10" y="401.84999999999997" font-size="9.0" fill="#444" stroke="#444" stroke-width="0.0" textLength="8.90" lengthAdjust="spacingAndGlyphs" >10</text>
<line x1="463" y1="382.40" x2="465.5" y2="382.40" stroke="#9a9a9a" stroke-width="0.9"/>
<text x="451.10" y="385.59999999999997" font-size="9.0" fill="#444" stroke="#444" stroke-width="0.0" textLength="8.90" lengthAdjust="spacingAndGlyphs" >20</text>
<line x1="463" y1="366.15" x2="465.5" y2="366.15" stroke="#9a9a9a" stroke-width="0.9"/>
<text x="451.10" y="369.34999999999997" font-size="9.0" fill="#444" stroke="#444" stroke-width="0.0" textLength="8.90" lengthAdjust="spacingAndGlyphs" >30</text>
<line x1="463" y1="349.90" x2="465.5" y2="349.90" stroke="#9a9a9a" stroke-width="0.9"/>
<text x="451.10" y="353.09999999999997" font-size="9.0" fill="#444" stroke="#444" stroke-width="0.0" textLength="8.90" lengthAdjust="spacingAndGlyphs" >40</text>
<line x1="463" y1="333.65" x2="465.5" y2="333.65" stroke="#9a9a9a" stroke-width="0.9"/>
<text x="451.10" y="336.84999999999997" font-size="9.0" fill="#444" stroke="#444" stroke-width="0.0" textLength="8.90" lengthAdjust="spacingAndGlyphs" >50</text>
<line x1="463" y1="317.40" x2="465.5" y2="317.40" stroke="#9a9a9a" stroke-width="0.9"/>
<text x="451.10" y="320.59999999999997" font-size="9.0" fill="#444" stroke="#444" stroke-width="0.0" textLength="8.90" lengthAdjust="spacingAndGlyphs" >60</text>
<line x1="463" y1="301.15" x2="465.5" y2="301.15" stroke="#9a9a9a" stroke-width="0.9"/>
<text x="451.10" y="304.34999999999997" font-size="9.0" fill="#444" stroke="#444" stroke-width="0.0" textLength="8.90" lengthAdjust="spacingAndGlyphs" >70</text>
<line x1="463" y1="284.90" x2="465.5" y2="284.90" stroke="#9a9a9a" stroke-width="0.9"/>
<text x="451.10" y="288.09999999999997" font-size="9.0" fill="#444" stroke="#444" stroke-width="0.0" textLength="8.90" lengthAdjust="spacingAndGlyphs" >80</text>
<line x1="463" y1="268.65" x2="465.5" y2="268.65" stroke="#9a9a9a" stroke-width="0.9"/>
<text x="451.10" y="271.84999999999997" font-size="9.0" fill="#444" stroke="#444" stroke-width="0.0" textLength="8.90" lengthAdjust="spacingAndGlyphs" >90</text>
<line x1="463" y1="252.40" x2="465.5" y2="252.40" stroke="#9a9a9a" stroke-width="0.9"/>
<text x="447.05" y="255.59999999999997" font-size="9.0" fill="#444" stroke="#444" stroke-width="0.0" textLength="12.95" lengthAdjust="spacingAndGlyphs" >100</text>
<text transform="translate(442,326.5) rotate(-90)" font-size="9.35" text-anchor="middle" fill="#222">Percentage of produced FAs</text>
<rect x="468.4" y="406.00" width="17.4" height="8.90" fill="#a8a8f6"/>
<rect x="468.4" y="297.00" width="17.4" height="109.00" fill="#3a39a8"/>
<rect x="468.4" y="280.80" width="17.4" height="16.20" fill="#050a52"/>
<rect x="468.4" y="274.80" width="17.4" height="6.00" fill="#b63a2a"/>
<rect x="468.4" y="267.60" width="17.4" height="7.20" fill="url(#h161)"/>
<rect x="468.4" y="258.00" width="17.4" height="9.60" fill="url(#h181)"/>
<rect x="468.4" y="252.20" width="17.4" height="5.80" fill="url(#h182)"/>
<rect x="493" y="384.40" width="17.4" height="30.50" fill="#a8a8f6"/>
<rect x="493" y="305.60" width="17.4" height="78.80" fill="#3a39a8"/>
<rect x="493" y="300.00" width="17.4" height="5.60" fill="#050a52"/>
<rect x="493" y="287.00" width="17.4" height="13.00" fill="#b63a2a"/>
<rect x="493" y="285.60" width="17.4" height="1.40" fill="url(#h161)"/>
<rect x="493" y="283.20" width="17.4" height="2.40" fill="#4d0806"/>
<rect x="493" y="264.60" width="17.4" height="18.60" fill="url(#h181)"/>
<rect x="493" y="252.20" width="17.4" height="12.40" fill="url(#h182)"/>
<rect x="517.2" y="404.00" width="17.4" height="10.90" fill="#3a39a8"/>
<rect x="517.2" y="391.60" width="17.4" height="12.40" fill="#050a52"/>
<rect x="517.2" y="365.60" width="17.4" height="26.00" fill="#b63a2a"/>
<rect x="517.2" y="360.00" width="17.4" height="5.60" fill="url(#h161)"/>
<rect x="517.2" y="358.00" width="17.4" height="2.00" fill="#4d0806"/>
<rect x="517.2" y="282.00" width="17.4" height="76.00" fill="url(#h181)"/>
<rect x="517.2" y="252.20" width="17.4" height="29.80" fill="url(#h182)"/>
<rect x="542.2" y="395.60" width="17.4" height="19.30" fill="#050a52"/>
<rect x="542.2" y="381.00" width="17.4" height="14.60" fill="#b63a2a"/>
<rect x="542.2" y="362.40" width="17.4" height="18.60" fill="url(#h161)"/>
<rect x="542.2" y="355.00" width="17.4" height="7.40" fill="#4d0806"/>
<rect x="542.2" y="280.00" width="17.4" height="75.00" fill="url(#h181)"/>
<rect x="542.2" y="252.20" width="17.4" height="27.80" fill="url(#h182)"/>
<rect x="566.8" y="411.00" width="17.4" height="3.90" fill="#a8a8f6"/>
<rect x="566.8" y="307.50" width="17.4" height="103.50" fill="#3a39a8"/>
<rect x="566.8" y="286.50" width="17.4" height="21.00" fill="url(#h121)"/>
<rect x="566.8" y="281.60" width="17.4" height="4.90" fill="#050a52"/>
<rect x="566.8" y="267.00" width="17.4" height="14.60" fill="url(#h141)"/>
<rect x="566.8" y="262.00" width="17.4" height="5.00" fill="#b63a2a"/>
<rect x="566.8" y="257.80" width="17.4" height="4.20" fill="url(#h161)"/>
<rect x="566.8" y="252.20" width="17.4" height="5.60" fill="url(#h181)"/>
<rect x="591" y="382.00" width="17.4" height="32.90" fill="#e6e6fc"/>
<rect x="591" y="367.00" width="17.4" height="15.00" fill="#a8a8f6"/>
<rect x="591" y="338.00" width="17.4" height="29.00" fill="#3a39a8"/>
<rect x="591" y="283.60" width="17.4" height="54.40" fill="#050a52"/>
<rect x="591" y="252.20" width="17.4" height="31.40" fill="#b63a2a"/>
<rect x="615.2" y="406.00" width="17.4" height="8.90" fill="#defbfb"/>
<rect x="615.2" y="344.40" width="17.4" height="61.60" fill="#e6e6fc"/>
<rect x="615.2" y="338.00" width="17.4" height="6.40" fill="#a8a8f6"/>
<rect x="615.2" y="315.00" width="17.4" height="23.00" fill="#3a39a8"/>
<rect x="615.2" y="293.50" width="17.4" height="21.50" fill="url(#h121)"/>
<rect x="615.2" y="281.00" width="17.4" height="12.50" fill="#050a52"/>
<rect x="615.2" y="274.00" width="17.4" height="7.00" fill="url(#h141)"/>
<rect x="615.2" y="264.00" width="17.4" height="10.00" fill="#b63a2a"/>
<rect x="615.2" y="252.20" width="17.4" height="11.80" fill="url(#h161)"/>
<rect x="640" y="402.00" width="17.4" height="12.90" fill="#e6e6fc"/>
<rect x="640" y="393.60" width="17.4" height="8.40" fill="#a8a8f6"/>
<rect x="640" y="312.00" width="17.4" height="81.60" fill="#3a39a8"/>
<rect x="640" y="283.00" width="17.4" height="29.00" fill="#050a52"/>
<rect x="640" y="271.00" width="17.4" height="12.00" fill="#b63a2a"/>
<rect x="640" y="267.00" width="17.4" height="4.00" fill="#4d0806"/>
<rect x="640" y="254.60" width="17.4" height="12.40" fill="url(#h181)"/>
<rect x="640" y="252.20" width="17.4" height="2.40" fill="url(#h182)"/>
<rect x="664.2" y="410.40" width="17.4" height="4.50" fill="#e6e6fc"/>
<rect x="664.2" y="405.00" width="17.4" height="5.40" fill="#a8a8f6"/>
<rect x="664.2" y="331.00" width="17.4" height="74.00" fill="#3a39a8"/>
<rect x="664.2" y="304.40" width="17.4" height="26.60" fill="#050a52"/>
<rect x="664.2" y="289.00" width="17.4" height="15.40" fill="#b63a2a"/>
<rect x="664.2" y="284.40" width="17.4" height="4.60" fill="#4d0806"/>
<rect x="664.2" y="256.20" width="17.4" height="28.20" fill="url(#h181)"/>
<rect x="664.2" y="252.20" width="17.4" height="4.00" fill="url(#h182)"/>
<line x1="468.4" y1="246.5" x2="559" y2="246.5" stroke="#222" stroke-width="1"/>
<line x1="567" y1="246.5" x2="633" y2="246.5" stroke="#222" stroke-width="1"/>
<line x1="640" y1="246.5" x2="681.4" y2="246.5" stroke="#222" stroke-width="1"/>
<text x="503.20" y="243.6" font-size="8.8" fill="#333" stroke="#333" stroke-width="0.0" textLength="21.60" lengthAdjust="spacingAndGlyphs" >Yeast</text>
<text x="583.60" y="243.6" font-size="8.8" fill="#333" stroke="#333" stroke-width="0.0" textLength="33.20" lengthAdjust="spacingAndGlyphs" >Bacteria</text>
<text x="650.60" y="243.6" font-size="8.8" fill="#333" stroke="#333" stroke-width="0.0" textLength="20.20" lengthAdjust="spacingAndGlyphs" >Plant</text>
<text transform="translate(482.30,422.70) rotate(-45)" font-size="9.2" text-anchor="end" fill="#333">XCMFA69</text>
<text transform="translate(510.90,421.70) rotate(-45)" font-size="9.2" text-anchor="end" fill="#333">XCMFA69-fed-batch</text>
<text transform="translate(533.50,420.10) rotate(-45)" font-size="9.2" text-anchor="end" fill="#333">Xu et al. (2016)</text>
<text transform="translate(558.40,419.00) rotate(-45)" font-size="9.2" text-anchor="end" fill="#333">Rigouin et al. (2017)</text>
<text transform="translate(583.70,420.90) rotate(-45)" font-size="9.2" text-anchor="end" fill="#333">Jindra et al. (2023)</text>
<text transform="translate(605.40,419.00) rotate(-45)" font-size="9.2" text-anchor="end" fill="#333">Yan et al. (2022)</text>
<text transform="translate(633.90,421.50) rotate(-45)" font-size="9.2" text-anchor="end" fill="#333">Valencia et al. (2022)</text>
<text transform="translate(662.40,420.80) rotate(-45)" font-size="9.2" text-anchor="end" fill="#333">Coconut oil (cold extracted)</text>
<text transform="translate(680.40,421.50) rotate(-45)" font-size="9.2" text-anchor="end" fill="#333">Palm kernel oil</text>
</svg></body></html>
